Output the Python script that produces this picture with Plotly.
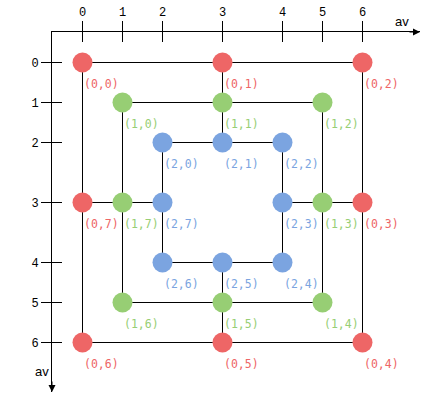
import plotly.graph_objects as go

# === Axis ticks: labels 0..6 sit at uneven positions on the axis ===
tick_labels = ["0", "1", "2", "3", "4", "5", "6"]
tick_pos = [0, 2, 4, 7, 10, 12, 14]

# === Nodes: three rings of 8, grid index (column, row) per node ===
ring_cols = [
    [0, 3, 6, 6, 6, 3, 0, 0],
    [1, 3, 5, 5, 5, 3, 1, 1],
    [2, 3, 4, 4, 4, 3, 2, 2],
]
ring_rows = [
    [0, 0, 0, 3, 6, 6, 6, 3],
    [1, 1, 1, 3, 5, 5, 5, 3],
    [2, 2, 2, 3, 4, 4, 4, 3],
]
ring_colors = ["#ee6666", "#97ce74", "#7ba4e0"]

# spokes join the rings at these node indices
spoke_nodes = [1, 3, 5, 7]

BLACK = "#000000"
MONO = "DejaVu Sans Mono"


def node_xy(r, k):
    return tick_pos[ring_cols[r][k]], tick_pos[ring_rows[r][k]]


# === Edges: each ring is a cycle, plus spokes between rings ===
ex, ey = [], []
for r in range(3):
    for k in range(8):
        x0, y0 = node_xy(r, k)
        x1, y1 = node_xy(r, (k + 1) % 8)
        ex += [x0, x1, None]
        ey += [y0, y1, None]
for k in spoke_nodes:
    for r in range(2):
        x0, y0 = node_xy(r, k)
        x1, y1 = node_xy(r + 1, k)
        ex += [x0, x1, None]
        ey += [y0, y1, None]

fig = go.Figure()
fig.add_trace(go.Scatter(x=ex, y=ey, mode="lines",
                         line=dict(color=BLACK, width=1),
                         hoverinfo="skip", showlegend=False))

annotations = []
for r in range(3):
    xs = [tick_pos[c] for c in ring_cols[r]]
    ys = [tick_pos[c] for c in ring_rows[r]]
    fig.add_trace(go.Scatter(
        x=xs, y=ys, mode="markers",
        marker=dict(size=20, color=ring_colors[r], line=dict(width=0)),
        text=[f"({r},{k})" for k in range(8)],
        hoverinfo="text", showlegend=False,
    ))
    for k in range(8):
        annotations.append(dict(
            x=xs[k], y=ys[k], xref="x", yref="y",
            text=f"({r},{k})", showarrow=False,
            xanchor="left", yanchor="middle", xshift=-1, yshift=-21,
            font=dict(family=MONO, size=11.5, color=ring_colors[r]),
        ))

# dummy trace so the second (inside-tick) axes get drawn
fig.add_trace(go.Scatter(x=[None], y=[None], xaxis="x2", yaxis="y2",
                         showlegend=False, hoverinfo="skip"))

# axis arrows and names
annotations += [
    dict(x=1, y=1, xref="paper", yref="paper", ax=-12, ay=0, text="",
         showarrow=True, arrowhead=2, arrowsize=1.4, arrowwidth=1, arrowcolor=BLACK),
    dict(x=0, y=0, xref="paper", yref="paper", ax=0, ay=-12, text="",
         showarrow=True, arrowhead=2, arrowsize=1.4, arrowwidth=1, arrowcolor=BLACK),
    dict(x=0.951, y=1.028, xref="paper", yref="paper", text="av", showarrow=False,
         xanchor="center", yanchor="middle",
         font=dict(family="Liberation Sans", size=13, color=BLACK)),
    dict(x=-0.027, y=0.056, xref="paper", yref="paper", text="av", showarrow=False,
         xanchor="center", yanchor="middle",
         font=dict(family="Liberation Sans", size=13, color=BLACK)),
]

# half-pixel offset keeps the 1px edges crisp
x_range = [-1.525, 16.875]
y_range = [16.475, -1.525]
tick_font = dict(family="Liberation Mono", size=12, color=BLACK)

axis_common = dict(showgrid=False, zeroline=False, fixedrange=True,
                   automargin=False,
                   tickvals=tick_pos, ticktext=tick_labels,
                   ticklen=10, tickwidth=1, tickcolor=BLACK)

fig.update_layout(
    width=439, height=409,
    margin=dict(l=52, r=19, t=32, b=17, autoexpand=False),
    paper_bgcolor="white", plot_bgcolor="white",
    xaxis=dict(range=x_range, side="top", showline=True, linecolor=BLACK,
               linewidth=1, ticks="outside", tickfont=tick_font, **axis_common),
    yaxis=dict(range=y_range, side="left", showline=True, linecolor=BLACK,
               linewidth=1, ticks="outside", tickfont=tick_font, **axis_common),
    xaxis2=dict(range=x_range, overlaying="x", anchor="y2", side="top",
                ticks="inside", showticklabels=False, showline=False, **axis_common),
    yaxis2=dict(range=y_range, overlaying="y", anchor="x2", side="left",
                ticks="inside", showticklabels=False, showline=False, **axis_common),
    annotations=annotations,
)

# page body has a default margin; drop it so the figure sits at the window corner
fig.write_html("out.html", config={"displayModeBar": False},
               post_script="document.body.style.margin='0';")
